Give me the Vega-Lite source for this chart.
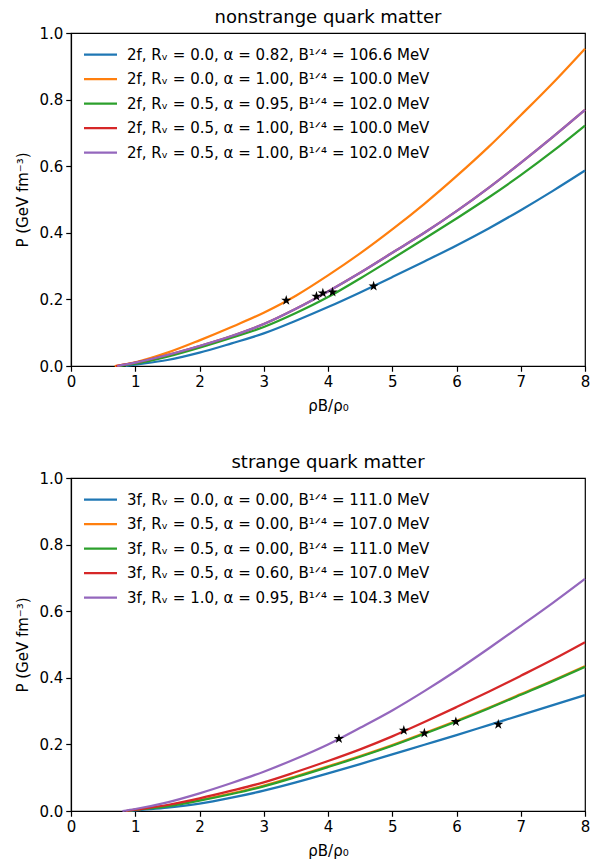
{
  "$schema": "https://vega.github.io/schema/vega-lite/v6.json",
  "padding": {"left": 15, "top": 8, "right": 0, "bottom": 0},
  "background": "white",
  "datasets": {
    "top": [
      {"k": "s1", "x": 0.85, "P": 0}, {"k": "s1", "x": 1, "P": 0.004}, {"k": "s1", "x": 1.5, "P": 0.018}, {"k": "s1", "x": 2, "P": 0.040}, {"k": "s1", "x": 2.5, "P": 0.068}, {"k": "s1", "x": 3, "P": 0.098}, {"k": "s1", "x": 3.5, "P": 0.136}, {"k": "s1", "x": 4, "P": 0.177}, {"k": "s1", "x": 4.5, "P": 0.221}, {"k": "s1", "x": 5, "P": 0.267}, {"k": "s1", "x": 5.5, "P": 0.314}, {"k": "s1", "x": 6, "P": 0.362}, {"k": "s1", "x": 6.5, "P": 0.413}, {"k": "s1", "x": 7, "P": 0.468}, {"k": "s1", "x": 7.5, "P": 0.526}, {"k": "s1", "x": 8, "P": 0.587},
      {"k": "s2", "x": 0.68, "P": 0}, {"k": "s2", "x": 1, "P": 0.011}, {"k": "s2", "x": 1.5, "P": 0.040}, {"k": "s2", "x": 2, "P": 0.077}, {"k": "s2", "x": 2.5, "P": 0.117}, {"k": "s2", "x": 3, "P": 0.160}, {"k": "s2", "x": 3.5, "P": 0.211}, {"k": "s2", "x": 4, "P": 0.272}, {"k": "s2", "x": 4.5, "P": 0.338}, {"k": "s2", "x": 5, "P": 0.410}, {"k": "s2", "x": 5.5, "P": 0.487}, {"k": "s2", "x": 6, "P": 0.570}, {"k": "s2", "x": 6.5, "P": 0.658}, {"k": "s2", "x": 7, "P": 0.753}, {"k": "s2", "x": 7.5, "P": 0.850}, {"k": "s2", "x": 8, "P": 0.953},
      {"k": "s3", "x": 0.75, "P": 0}, {"k": "s3", "x": 1, "P": 0.007}, {"k": "s3", "x": 1.5, "P": 0.028}, {"k": "s3", "x": 2, "P": 0.055}, {"k": "s3", "x": 2.5, "P": 0.085}, {"k": "s3", "x": 3, "P": 0.117}, {"k": "s3", "x": 3.5, "P": 0.159}, {"k": "s3", "x": 4, "P": 0.207}, {"k": "s3", "x": 4.5, "P": 0.263}, {"k": "s3", "x": 5, "P": 0.322}, {"k": "s3", "x": 5.5, "P": 0.382}, {"k": "s3", "x": 6, "P": 0.443}, {"k": "s3", "x": 6.5, "P": 0.506}, {"k": "s3", "x": 7, "P": 0.573}, {"k": "s3", "x": 7.5, "P": 0.645}, {"k": "s3", "x": 8, "P": 0.722},
      {"k": "s4", "x": 0.70, "P": 0}, {"k": "s4", "x": 1, "P": 0.010}, {"k": "s4", "x": 1.5, "P": 0.033}, {"k": "s4", "x": 2, "P": 0.060}, {"k": "s4", "x": 2.5, "P": 0.090}, {"k": "s4", "x": 3, "P": 0.126}, {"k": "s4", "x": 3.5, "P": 0.172}, {"k": "s4", "x": 4, "P": 0.224}, {"k": "s4", "x": 4.5, "P": 0.280}, {"k": "s4", "x": 5, "P": 0.340}, {"k": "s4", "x": 5.5, "P": 0.400}, {"k": "s4", "x": 6, "P": 0.465}, {"k": "s4", "x": 6.5, "P": 0.535}, {"k": "s4", "x": 7, "P": 0.610}, {"k": "s4", "x": 7.5, "P": 0.688}, {"k": "s4", "x": 8, "P": 0.769},
      {"k": "s5", "x": 0.72, "P": 0}, {"k": "s5", "x": 1, "P": 0.010}, {"k": "s5", "x": 1.5, "P": 0.033}, {"k": "s5", "x": 2, "P": 0.060}, {"k": "s5", "x": 2.5, "P": 0.090}, {"k": "s5", "x": 3, "P": 0.126}, {"k": "s5", "x": 3.5, "P": 0.172}, {"k": "s5", "x": 4, "P": 0.224}, {"k": "s5", "x": 4.5, "P": 0.280}, {"k": "s5", "x": 5, "P": 0.340}, {"k": "s5", "x": 5.5, "P": 0.400}, {"k": "s5", "x": 6, "P": 0.465}, {"k": "s5", "x": 6.5, "P": 0.535}, {"k": "s5", "x": 7, "P": 0.610}, {"k": "s5", "x": 7.5, "P": 0.688}, {"k": "s5", "x": 8, "P": 0.769}
    ],
    "topStars": [
      {"x": 3.35, "P": 0.197}, {"x": 3.82, "P": 0.209}, {"x": 3.92, "P": 0.219}, {"x": 4.07, "P": 0.222}, {"x": 4.71, "P": 0.240}
    ],
    "bottom": [
      {"k": "s1", "x": 0.9, "P": 0}, {"k": "s1", "x": 1, "P": 0.002}, {"k": "s1", "x": 1.5, "P": 0.010}, {"k": "s1", "x": 2, "P": 0.022}, {"k": "s1", "x": 2.5, "P": 0.040}, {"k": "s1", "x": 3, "P": 0.061}, {"k": "s1", "x": 3.5, "P": 0.086}, {"k": "s1", "x": 4, "P": 0.113}, {"k": "s1", "x": 4.5, "P": 0.141}, {"k": "s1", "x": 5, "P": 0.170}, {"k": "s1", "x": 5.5, "P": 0.199}, {"k": "s1", "x": 6, "P": 0.228}, {"k": "s1", "x": 6.5, "P": 0.258}, {"k": "s1", "x": 7, "P": 0.288}, {"k": "s1", "x": 7.5, "P": 0.318}, {"k": "s1", "x": 8, "P": 0.348},
      {"k": "s2", "x": 0.86, "P": 0}, {"k": "s2", "x": 1, "P": 0.004}, {"k": "s2", "x": 1.5, "P": 0.016}, {"k": "s2", "x": 2, "P": 0.033}, {"k": "s2", "x": 2.5, "P": 0.053}, {"k": "s2", "x": 3, "P": 0.076}, {"k": "s2", "x": 3.5, "P": 0.104}, {"k": "s2", "x": 4, "P": 0.134}, {"k": "s2", "x": 4.5, "P": 0.165}, {"k": "s2", "x": 5, "P": 0.198}, {"k": "s2", "x": 5.5, "P": 0.234}, {"k": "s2", "x": 6, "P": 0.271}, {"k": "s2", "x": 6.5, "P": 0.310}, {"k": "s2", "x": 7, "P": 0.351}, {"k": "s2", "x": 7.5, "P": 0.392}, {"k": "s2", "x": 8, "P": 0.435},
      {"k": "s3", "x": 0.88, "P": 0}, {"k": "s3", "x": 1, "P": 0.003}, {"k": "s3", "x": 1.5, "P": 0.014}, {"k": "s3", "x": 2, "P": 0.031}, {"k": "s3", "x": 2.5, "P": 0.051}, {"k": "s3", "x": 3, "P": 0.074}, {"k": "s3", "x": 3.5, "P": 0.102}, {"k": "s3", "x": 4, "P": 0.132}, {"k": "s3", "x": 4.5, "P": 0.163}, {"k": "s3", "x": 5, "P": 0.196}, {"k": "s3", "x": 5.5, "P": 0.232}, {"k": "s3", "x": 6, "P": 0.269}, {"k": "s3", "x": 6.5, "P": 0.308}, {"k": "s3", "x": 7, "P": 0.349}, {"k": "s3", "x": 7.5, "P": 0.390}, {"k": "s3", "x": 8, "P": 0.433},
      {"k": "s4", "x": 0.85, "P": 0}, {"k": "s4", "x": 1, "P": 0.004}, {"k": "s4", "x": 1.5, "P": 0.018}, {"k": "s4", "x": 2, "P": 0.038}, {"k": "s4", "x": 2.5, "P": 0.061}, {"k": "s4", "x": 3, "P": 0.086}, {"k": "s4", "x": 3.5, "P": 0.117}, {"k": "s4", "x": 4, "P": 0.150}, {"k": "s4", "x": 4.5, "P": 0.185}, {"k": "s4", "x": 5, "P": 0.224}, {"k": "s4", "x": 5.5, "P": 0.267}, {"k": "s4", "x": 6, "P": 0.312}, {"k": "s4", "x": 6.5, "P": 0.358}, {"k": "s4", "x": 7, "P": 0.406}, {"k": "s4", "x": 7.5, "P": 0.455}, {"k": "s4", "x": 8, "P": 0.507},
      {"k": "s5", "x": 0.8, "P": 0}, {"k": "s5", "x": 1, "P": 0.006}, {"k": "s5", "x": 1.5, "P": 0.026}, {"k": "s5", "x": 2, "P": 0.053}, {"k": "s5", "x": 2.5, "P": 0.084}, {"k": "s5", "x": 3, "P": 0.118}, {"k": "s5", "x": 3.5, "P": 0.157}, {"k": "s5", "x": 4, "P": 0.200}, {"k": "s5", "x": 4.5, "P": 0.250}, {"k": "s5", "x": 5, "P": 0.302}, {"k": "s5", "x": 5.5, "P": 0.360}, {"k": "s5", "x": 6, "P": 0.422}, {"k": "s5", "x": 6.5, "P": 0.488}, {"k": "s5", "x": 7, "P": 0.556}, {"k": "s5", "x": 7.5, "P": 0.625}, {"k": "s5", "x": 8, "P": 0.697}
    ],
    "bottomStars": [
      {"x": 4.17, "P": 0.217}, {"x": 5.18, "P": 0.242}, {"x": 5.50, "P": 0.234}, {"x": 5.99, "P": 0.268}, {"x": 6.65, "P": 0.260}
    ]
  },
  "vconcat": [
    {
      "width": 514,
      "height": 333,
      "title": {"text": "nonstrange quark matter"},
      "layer": [
        {
          "data": {"name": "top"},
          "mark": {"type": "line", "strokeWidth": 2.25, "interpolate": "monotone"},
          "encoding": {
            "x": {"field": "x", "type": "quantitative", "scale": {"domain": [0, 8], "nice": false}, "axis": {"title": "ρB/ρ₀", "values": [0, 1, 2, 3, 4, 5, 6, 7, 8], "format": "d"}},
            "y": {"field": "P", "type": "quantitative", "scale": {"domain": [0, 1], "nice": false}, "axis": {"title": "P (GeV fm⁻³)", "values": [0, 0.2, 0.4, 0.6, 0.8, 1.0], "format": ".1f"}},
            "color": {
              "field": "k", "type": "nominal",
              "scale": {"domain": ["s1", "s2", "s3", "s4", "s5"], "range": ["#1f77b4", "#ff7f0e", "#2ca02c", "#d62728", "#9467bd"]},
              "legend": {
                "title": null,
                "labelExpr": "datum.label == 's1' ? '2f, Rᵥ = 0.0, α = 0.82, B¹ᐟ⁴ = 106.6 MeV' : datum.label == 's2' ? '2f, Rᵥ = 0.0, α = 1.00, B¹ᐟ⁴ = 100.0 MeV' : datum.label == 's3' ? '2f, Rᵥ = 0.5, α = 0.95, B¹ᐟ⁴ = 102.0 MeV' : datum.label == 's4' ? '2f, Rᵥ = 0.5, α = 1.00, B¹ᐟ⁴ = 100.0 MeV' : '2f, Rᵥ = 0.5, α = 1.00, B¹ᐟ⁴ = 102.0 MeV'"
              }
            }
          }
        },
        {
          "data": {"name": "topStars"},
          "mark": {"type": "point", "shape": "M0,-1L0.225,-0.309L0.951,-0.309L0.363,0.118L0.588,0.809L0,0.382L-0.588,0.809L-0.363,0.118L-0.951,-0.309L-0.225,-0.309Z", "filled": true, "color": "black", "opacity": 1, "size": 115},
          "encoding": {
            "x": {"field": "x", "type": "quantitative"},
            "y": {"field": "P", "type": "quantitative"}
          }
        }
      ]
    },
    {
      "width": 514,
      "height": 333,
      "title": {"text": "strange quark matter"},
      "layer": [
        {
          "data": {"name": "bottom"},
          "mark": {"type": "line", "strokeWidth": 2.25, "interpolate": "monotone"},
          "encoding": {
            "x": {"field": "x", "type": "quantitative", "scale": {"domain": [0, 8], "nice": false}, "axis": {"title": "ρB/ρ₀", "values": [0, 1, 2, 3, 4, 5, 6, 7, 8], "format": "d"}},
            "y": {"field": "P", "type": "quantitative", "scale": {"domain": [0, 1], "nice": false}, "axis": {"title": "P (GeV fm⁻³)", "values": [0, 0.2, 0.4, 0.6, 0.8, 1.0], "format": ".1f"}},
            "color": {
              "field": "k", "type": "nominal",
              "scale": {"domain": ["s1", "s2", "s3", "s4", "s5"], "range": ["#1f77b4", "#ff7f0e", "#2ca02c", "#d62728", "#9467bd"]},
              "legend": {
                "title": null,
                "labelExpr": "datum.label == 's1' ? '3f, Rᵥ = 0.0, α = 0.00, B¹ᐟ⁴ = 111.0 MeV' : datum.label == 's2' ? '3f, Rᵥ = 0.5, α = 0.00, B¹ᐟ⁴ = 107.0 MeV' : datum.label == 's3' ? '3f, Rᵥ = 0.5, α = 0.00, B¹ᐟ⁴ = 111.0 MeV' : datum.label == 's4' ? '3f, Rᵥ = 0.5, α = 0.60, B¹ᐟ⁴ = 107.0 MeV' : '3f, Rᵥ = 1.0, α = 0.95, B¹ᐟ⁴ = 104.3 MeV'"
              }
            }
          }
        },
        {
          "data": {"name": "bottomStars"},
          "mark": {"type": "point", "shape": "M0,-1L0.225,-0.309L0.951,-0.309L0.363,0.118L0.588,0.809L0,0.382L-0.588,0.809L-0.363,0.118L-0.951,-0.309L-0.225,-0.309Z", "filled": true, "color": "black", "opacity": 1, "size": 115},
          "encoding": {
            "x": {"field": "x", "type": "quantitative"},
            "y": {"field": "P", "type": "quantitative"}
          }
        }
      ]
    }
  ],
  "spacing": 112,
  "bounds": "flush",
  "resolve": {"scale": {"color": "independent"}, "legend": {"color": "independent"}},
  "config": {
    "font": "DejaVu Sans",
    "view": {"stroke": "black", "strokeWidth": 1.2},
    "title": {"fontSize": 18, "fontWeight": "normal", "font": "DejaVu Sans", "color": "black", "anchor": "middle", "offset": -1},
    "axis": {
      "grid": false,
      "labelFont": "DejaVu Sans", "titleFont": "DejaVu Sans",
      "labelFontSize": 15, "titleFontSize": 15, "titleFontWeight": "normal",
      "labelColor": "black", "titleColor": "black",
      "domainColor": "black", "domainWidth": 1.2,
      "tickColor": "black", "tickWidth": 1.2, "tickSize": 5.25,
      "labelPadding": 3, "labelFlush": false, "labelOverlap": false
    },
    "axisY": {"titlePadding": 8},
    "axisX": {"titlePadding": 9},
    "legend": {
      "orient": "none", "legendX": 18, "legendY": 10, "padding": 0,
      "direction": "vertical",
      "labelFont": "DejaVu Sans", "labelFontSize": 15, "labelColor": "black", "labelLimit": 450,
      "symbolType": "M-1.65,0L1.65,0", "symbolSize": 400, "symbolStrokeWidth": 2.25,
      "labelOffset": 15, "rowPadding": 4.5
    }
  }
}
